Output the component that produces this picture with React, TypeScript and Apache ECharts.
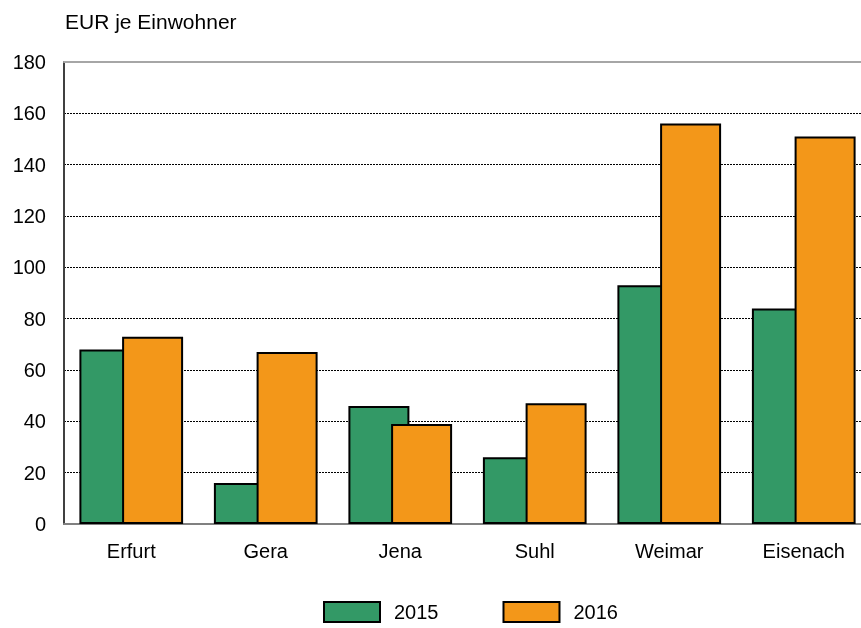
import React, { useEffect, useRef } from "react";
import * as echarts from "echarts";

const categories = ["Erfurt", "Gera", "Jena", "Suhl", "Weimar", "Eisenach"];
const values2015 = [68, 16, 46, 26, 93, 84];
const values2016 = [73, 67, 39, 47, 156, 151];
const yTicks = { min: 0, max: 180, interval: 20 };

export default function App() {
  const ref = useRef<HTMLDivElement>(null);
  useEffect(() => {
    const chart = echarts.init(ref.current!, null, { renderer: "svg" });
    const font = "Arial, 'Liberation Sans', sans-serif";
    chart.setOption({
      animation: false,
      textStyle: { fontFamily: font },
      title: {
        text: "EUR je Einwohner",
        left: 60,
        top: 6,
        textStyle: { fontSize: 21, fontWeight: "normal", color: "#000", fontFamily: font },
      },
      legend: {
        top: 601,
        left: 323,
        padding: 0,
        icon: "rect",
        itemWidth: 56,
        itemHeight: 20,
        itemGap: 64,
        textStyle: { fontSize: 20, color: "#000", fontFamily: font, padding: [2, 0, 0, 9] },
        data: ["2015", "2016"],
      },
      grid: { left: 64, right: 0, top: 62, bottom: 104, containLabel: false },
      xAxis: [
        {
          type: "category",
          data: categories,
          axisLine: { show: true, lineStyle: { color: "#808080", width: 2 } },
          axisTick: { show: false },
          axisLabel: { fontSize: 20, color: "#000", margin: 17, fontFamily: font },
        },
        {
          type: "category",
          data: categories,
          position: "top",
          axisLine: { show: true, lineStyle: { color: "#a6a6a6", width: 2 } },
          axisTick: { show: false },
          axisLabel: { show: false },
        },
      ],
      yAxis: {
        type: "value",
        min: yTicks.min,
        max: yTicks.max,
        interval: yTicks.interval,
        axisLine: { show: true, lineStyle: { color: "#404040", width: 2 } },
        axisTick: { show: false },
        axisLabel: { fontSize: 20, color: "#000", margin: 18, fontFamily: font },
        splitLine: {
          show: true,
          lineStyle: { color: "#000", type: [2, 1], width: 1 },
        },
      },
      series: [
        {
          name: "2015",
          type: "bar",
          data: values2015,
          barWidth: 61,
          barGap: "-30%",
          itemStyle: { color: "#339966", borderColor: "#000", borderWidth: 2 },
        },
        {
          name: "2016",
          type: "bar",
          data: values2016,
          barWidth: 61,
          itemStyle: { color: "#f39719", borderColor: "#000", borderWidth: 2 },
        },
      ],
    });
    return () => chart.dispose();
  }, []);
  return <div ref={ref} style={{ width: 871, height: 628, position: "fixed", left: 0, top: 0 }} />;
}
